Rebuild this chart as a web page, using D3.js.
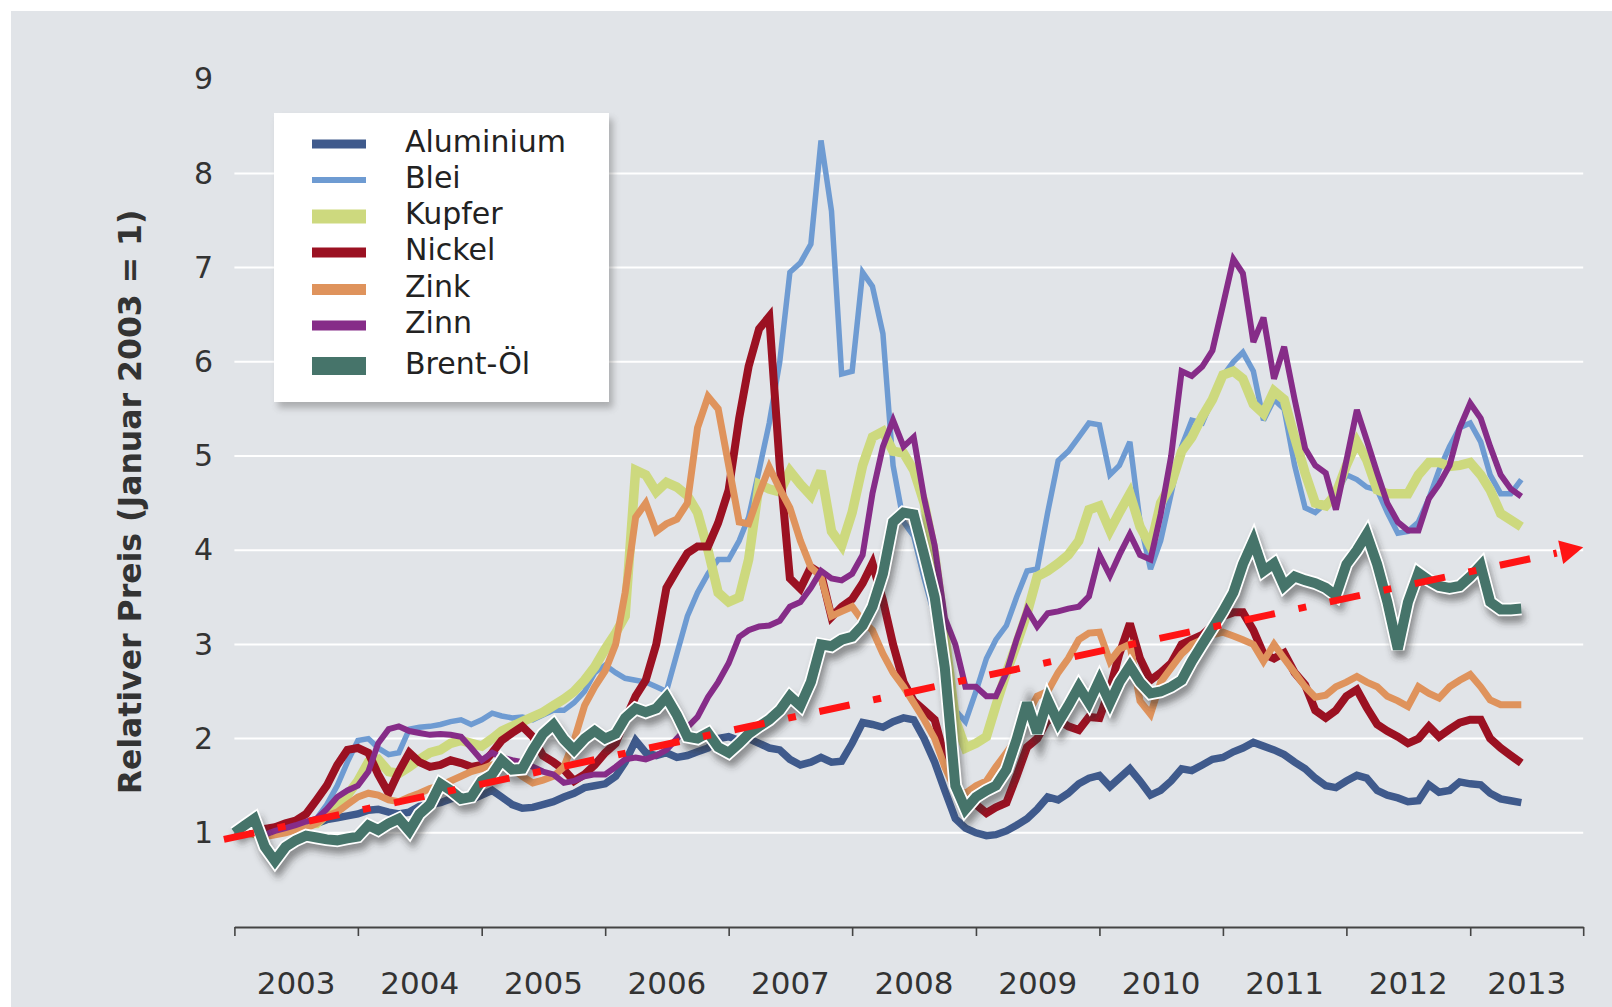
<!DOCTYPE html>
<html>
<head>
<meta charset="utf-8">
<script src="https://cdn.jsdelivr.net/npm/d3@7"></script>
<style>
  body { margin: 0; background: #fff; }
  svg { display: block; }
  text { font-family: "DejaVu Sans", Verdana, sans-serif; }
</style>
</head>
<body>
<div id="chart"></div>
<script>
// relative prices, monthly from Jan 2003 (Jan 2003 = 1)
const aluminium = [
1.00,1.03,1.02,1.00,1.04,1.07,1.08,1.10,1.10,1.14,1.16,1.18,
1.20,1.24,1.25,1.22,1.20,1.22,1.28,1.30,1.32,1.36,1.38,1.35,
1.40,1.45,1.38,1.30,1.26,1.27,1.30,1.33,1.38,1.42,1.48,1.50,
1.52,1.60,1.75,1.98,1.85,1.82,1.85,1.80,1.82,1.86,1.90,2.00,
2.02,1.98,2.00,1.95,1.90,1.88,1.78,1.72,1.75,1.80,1.75,1.76,
1.95,2.17,2.15,2.12,2.18,2.22,2.20,2.00,1.75,1.45,1.15,1.05,
1.00,0.97,0.98,1.02,1.08,1.15,1.25,1.38,1.35,1.42,1.52,1.58,
1.61,1.49,1.58,1.68,1.55,1.40,1.45,1.55,1.68,1.66,1.72,1.78,
1.80,1.86,1.90,1.96,1.92,1.88,1.83,1.75,1.68,1.58,1.50,1.48,
1.55,1.61,1.58,1.45,1.40,1.37,1.33,1.34,1.51,1.43,1.45,1.54,
1.52,1.51,1.42,1.36,1.34,1.32];

const blei = [
1.00,1.00,0.98,0.98,1.00,1.03,1.05,1.08,1.15,1.30,1.50,1.75,
1.98,2.00,1.90,1.83,1.85,2.10,2.12,2.13,2.15,2.18,2.20,2.15,
2.20,2.27,2.24,2.22,2.23,2.20,2.25,2.30,2.30,2.38,2.50,2.70,
2.78,2.70,2.64,2.62,2.60,2.55,2.50,2.90,3.30,3.55,3.75,3.90,
3.90,4.10,4.35,4.85,5.35,6.00,6.95,7.05,7.25,8.35,7.60,5.87,
5.90,6.95,6.80,6.30,4.90,4.30,4.15,3.70,3.30,2.75,2.30,2.18,
2.50,2.85,3.05,3.20,3.50,3.78,3.80,4.40,4.95,5.05,5.20,5.35,
5.33,4.80,4.90,5.15,4.30,3.80,4.10,4.60,5.10,5.38,5.35,5.60,
5.85,6.00,6.10,5.90,5.38,5.60,5.50,4.90,4.45,4.40,4.50,4.60,
4.80,4.75,4.67,4.64,4.40,4.18,4.20,4.30,4.55,4.85,5.10,5.30,
5.35,5.15,4.80,4.60,4.60,4.75];

const kupfer = [
1.00,1.02,1.00,0.97,1.02,1.04,1.07,1.10,1.10,1.20,1.30,1.40,
1.55,1.75,1.78,1.65,1.63,1.70,1.78,1.85,1.88,1.95,1.98,1.95,
1.92,2.00,2.08,2.13,2.18,2.23,2.28,2.35,2.42,2.50,2.62,2.76,
2.95,3.12,3.30,4.85,4.80,4.62,4.72,4.67,4.58,4.40,4.00,3.55,
3.45,3.50,3.90,4.70,4.65,4.62,4.84,4.70,4.58,4.84,4.20,4.05,
4.40,4.90,5.20,5.26,5.05,5.03,4.85,4.50,3.95,3.10,2.20,1.90,
1.95,2.02,2.35,2.70,3.00,3.33,3.72,3.78,3.86,3.95,4.10,4.43,
4.47,4.21,4.40,4.60,4.25,4.04,4.50,4.70,5.05,5.20,5.42,5.60,
5.86,5.90,5.82,5.55,5.45,5.69,5.60,5.20,4.82,4.50,4.47,4.60,
4.90,5.15,4.96,4.64,4.60,4.60,4.60,4.80,4.93,4.93,4.89,4.90,
4.93,4.80,4.64,4.39,4.32,4.25];

const nickel = [
1.00,1.03,1.05,1.04,1.06,1.10,1.13,1.20,1.35,1.50,1.72,1.88,
1.90,1.85,1.62,1.42,1.65,1.85,1.75,1.70,1.72,1.77,1.74,1.70,
1.72,1.85,1.98,2.06,2.13,2.02,1.82,1.75,1.67,1.55,1.62,1.72,
1.85,1.95,2.20,2.45,2.62,3.00,3.60,3.79,3.97,4.04,4.04,4.29,
4.64,5.40,5.95,6.35,6.48,4.90,3.70,3.59,3.82,3.75,3.29,3.40,
3.48,3.65,3.86,3.47,3.00,2.60,2.40,2.30,2.20,1.80,1.45,1.35,
1.30,1.21,1.27,1.32,1.60,1.91,2.00,2.20,2.20,2.13,2.09,2.23,
2.22,2.53,2.90,3.22,2.85,2.62,2.70,2.80,3.00,3.05,3.10,3.20,
3.30,3.34,3.34,3.15,2.90,2.85,2.91,2.70,2.57,2.30,2.22,2.30,
2.45,2.52,2.33,2.15,2.08,2.02,1.95,2.00,2.13,2.02,2.10,2.17,
2.20,2.20,2.00,1.90,1.82,1.74];

const zink = [
1.00,1.00,0.98,0.96,0.98,1.00,1.03,1.05,1.10,1.18,1.22,1.30,
1.38,1.42,1.40,1.35,1.33,1.38,1.42,1.47,1.50,1.55,1.60,1.65,
1.68,1.72,1.70,1.68,1.60,1.53,1.56,1.60,1.70,1.98,2.35,2.55,
2.72,3.00,3.55,4.35,4.50,4.20,4.28,4.33,4.50,5.30,5.63,5.50,
4.90,4.30,4.28,4.60,4.88,4.65,4.45,4.10,3.82,3.72,3.30,3.35,
3.40,3.25,3.15,2.90,2.70,2.55,2.38,2.20,2.00,1.70,1.45,1.42,
1.50,1.55,1.70,1.85,2.00,2.25,2.45,2.50,2.70,2.85,3.05,3.12,
3.13,2.82,2.95,3.00,2.40,2.26,2.60,2.75,2.90,3.00,3.05,3.10,
3.13,3.09,3.05,3.00,2.82,3.00,2.85,2.70,2.55,2.44,2.46,2.55,
2.60,2.66,2.60,2.55,2.45,2.40,2.34,2.55,2.48,2.43,2.55,2.62,
2.68,2.55,2.41,2.36,2.36,2.36];

const zinn = [
1.00,1.02,1.00,0.98,1.02,1.05,1.08,1.12,1.15,1.25,1.38,1.45,
1.50,1.65,1.95,2.10,2.13,2.08,2.06,2.04,2.05,2.04,2.02,1.90,
1.77,1.85,1.80,1.77,1.75,1.70,1.65,1.62,1.53,1.55,1.60,1.62,
1.62,1.70,1.78,1.80,1.78,1.82,1.88,2.00,2.12,2.23,2.44,2.60,
2.80,3.08,3.15,3.19,3.20,3.25,3.40,3.45,3.60,3.78,3.70,3.68,
3.75,3.95,4.60,5.10,5.38,5.10,5.20,4.55,4.05,3.28,3.00,2.55,
2.55,2.45,2.45,2.70,3.05,3.37,3.19,3.33,3.35,3.38,3.40,3.51,
3.95,3.73,3.95,4.17,3.95,3.90,4.38,5.00,5.90,5.85,5.95,6.12,
6.60,7.09,6.94,6.21,6.47,5.82,6.16,5.60,5.08,4.90,4.82,4.43,
4.95,5.49,5.17,4.82,4.50,4.30,4.21,4.21,4.55,4.70,4.90,5.30,
5.56,5.40,5.10,4.80,4.65,4.57];

const brent = [
1.00,1.08,1.15,0.85,0.70,0.85,0.92,0.97,0.95,0.93,0.92,0.94,
0.96,1.08,1.03,1.10,1.15,1.02,1.20,1.30,1.52,1.45,1.36,1.38,
1.55,1.62,1.77,1.67,1.68,1.88,2.05,2.15,1.99,1.88,2.00,2.08,
2.00,2.05,2.22,2.32,2.28,2.32,2.44,2.25,2.02,2.00,2.06,1.91,
1.85,1.95,2.05,2.13,2.20,2.30,2.45,2.35,2.60,3.00,2.98,3.05,
3.08,3.20,3.40,3.75,4.30,4.40,4.38,3.95,3.50,2.75,1.50,1.25,
1.38,1.45,1.50,1.67,1.99,2.38,2.06,2.41,2.17,2.35,2.55,2.38,
2.62,2.38,2.60,2.77,2.60,2.48,2.50,2.55,2.62,2.82,3.00,3.17,
3.35,3.55,3.85,4.10,3.78,3.86,3.62,3.72,3.68,3.65,3.60,3.52,
3.85,4.00,4.17,3.85,3.45,2.95,3.45,3.76,3.68,3.62,3.60,3.62,
3.72,3.84,3.45,3.37,3.37,3.38];

const seriesNames  = ["Aluminium", "Blei", "Kupfer", "Nickel", "Zink", "Zinn", "Brent-Öl"];
const seriesValues = [aluminium, blei, kupfer, nickel, zink, zinn, brent];
const seriesColors = ["#3f5a8c", "#6e9bd2", "#cdd97e", "#9b1122", "#df935c", "#862c88", "#46746a"];
const seriesWidths = [7.5, 5.5, 9.5, 8, 7, 6, 10];
const legendSwatch = [9, 6, 14, 10, 11, 10, 18];

const yTicks = [1, 2, 3, 4, 5, 6, 7, 8, 9];
const gridValues = [1, 2, 3, 4, 5, 6, 7, 8];
const years = [2003, 2004, 2005, 2006, 2007, 2008, 2009, 2010, 2011, 2012, 2013];

// dash-dot trend arrow
const trendDates = [new Date(2002, 11, 1), new Date(2013, 11, 1)];
const trendValues = [0.93, 4.03];

const startMonth = new Date(2003, 0, 1);
const months = d3.range(brent.length).map(i => d3.timeMonth.offset(startMonth, i));

const width = 1612, height = 1007;
const svg = d3.select("#chart").append("svg")
    .attr("width", width)
    .attr("height", height);

const defs = svg.append("defs");
defs.append("filter").attr("id", "blur3")
    .attr("x", "-10%").attr("y", "-10%").attr("width", "120%").attr("height", "120%")
  .append("feGaussianBlur").attr("stdDeviation", 3.5);

// grey panel
svg.append("rect")
    .attr("x", 11).attr("y", 11)
    .attr("width", width - 11).attr("height", height - 11)
    .attr("fill", "#e1e4e8");

const xScale = d3.scaleTime()
    .domain([new Date(2003, 0, 1), new Date(2013, 11, 1)])
    .range([234.4, 1583.2]);

const yScale = d3.scaleLinear()
    .domain([0, 9])
    .range([927, 79.2]);

// horizontal grid
svg.append("g").attr("class", "grid")
  .selectAll("line")
  .data(gridValues)
  .join("line")
    .attr("x1", xScale.range()[0])
    .attr("x2", xScale.range()[1])
    .attr("y1", d => yScale(d))
    .attr("y2", d => yScale(d))
    .attr("stroke", "#ffffff")
    .attr("stroke-width", 2);

// y labels
const yAxis = d3.axisLeft(yScale).tickValues(yTicks).tickSize(0).tickPadding(0);
const y_axis = svg.append("g")
    .attr("transform", "translate(213,0)")
    .call(yAxis);
y_axis.select(".domain").remove();
y_axis.selectAll("text")
    .attr("font-family", "DejaVu Sans, sans-serif")
    .attr("font-size", 30)
    .attr("fill", "#333");

// x axis: ticks at year boundaries, labels in the middle of each year
const xTickDates = years.map(y => new Date(y, 0, 1)).concat([xScale.domain()[1]]);
const xAxis = d3.axisBottom(xScale).tickValues(xTickDates).tickSize(9).tickSizeOuter(0).tickFormat("");
const x_axis = svg.append("g")
    .attr("transform", `translate(0,${yScale(0)})`)
    .call(xAxis);
x_axis.select(".domain").attr("stroke", "#444").attr("stroke-width", 2);
x_axis.selectAll(".tick line").attr("stroke", "#444").attr("stroke-width", 1.6);

svg.append("g").selectAll("text")
  .data(years)
  .join("text")
    .attr("x", d => (xScale(new Date(d, 0, 1)) + xScale(d3.min([new Date(d + 1, 0, 1), xScale.domain()[1]]))) / 2)
    .attr("y", 994)
    .attr("text-anchor", "middle")
    .attr("font-size", 31)
    .attr("fill", "#333")
    .text(d => d);

// axis title
svg.append("text")
    .attr("transform", "translate(130,502) rotate(-90)")
    .attr("text-anchor", "middle")
    .attr("dominant-baseline", "central")
    .attr("font-size", 31.5)
    .attr("font-weight", "bold")
    .attr("fill", "#333")
    .text("Relativer Preis (Januar 2003 = 1)");

const line = d3.line()
    .x((d, i) => xScale(months[i]))
    .y(d => yScale(d));

// metals
const lines = svg.append("g").attr("fill", "none");
seriesValues.slice(0, 6).forEach((vals, k) => {
    lines.append("path")
        .datum(vals)
        .attr("d", line)
        .attr("stroke", seriesColors[k])
        .attr("stroke-width", seriesWidths[k])
        .attr("stroke-linejoin", "miter")
        .attr("stroke-miterlimit", 3);
});

// Brent: shadow, white outline, teal core
lines.append("path")
    .datum(brent)
    .attr("d", line)
    .attr("transform", "translate(3,7)")
    .attr("stroke", "#333")
    .attr("stroke-opacity", 0.5)
    .attr("stroke-width", 13)
    .attr("filter", "url(#blur3)");
lines.append("path")
    .datum(brent)
    .attr("d", line)
    .attr("stroke", "#ffffff")
    .attr("stroke-width", 13.5)
    .attr("stroke-linejoin", "miter")
    .attr("stroke-miterlimit", 3);
lines.append("path")
    .datum(brent)
    .attr("d", line)
    .attr("stroke", seriesColors[6])
    .attr("stroke-width", seriesWidths[6])
    .attr("stroke-linejoin", "miter")
    .attr("stroke-miterlimit", 3);

// trend arrow
const p0 = [xScale(trendDates[0]), yScale(trendValues[0])];
const p1 = [xScale(trendDates[1]), yScale(trendValues[1])];
const dx = p1[0] - p0[0], dy = p1[1] - p0[1];
const len = Math.hypot(dx, dy);
const ux = dx / len, uy = dy / len;
const headLen = 23, headHalf = 12;
const base = [p1[0] - ux * headLen, p1[1] - uy * headLen];

svg.append("line")
    .attr("x1", p0[0]).attr("y1", p0[1])
    .attr("x2", base[0] - ux * 4).attr("y2", base[1] - uy * 4)
    .attr("stroke", "#ff1414")
    .attr("stroke-width", 7)
    .attr("stroke-dasharray", "31 24 8 24");
svg.append("path")
    .attr("d", `M${p1[0]},${p1[1]}L${base[0] - uy * headHalf},${base[1] + ux * headHalf}L${base[0] + uy * headHalf},${base[1] - ux * headHalf}Z`)
    .attr("fill", "#ff1414");

// legend
const legend = svg.append("g").attr("transform", "translate(274,113)");
legend.append("rect")
    .attr("x", 4).attr("y", 6)
    .attr("width", 335).attr("height", 289)
    .attr("fill", "#6a6a6a")
    .attr("opacity", 0.45)
    .attr("filter", "url(#blur3)");
legend.append("rect")
    .attr("width", 335).attr("height", 289)
    .attr("fill", "#ffffff");
const rowY = [31, 67, 103.5, 139.5, 176.5, 212.5, 253];
seriesNames.forEach((name, k) => {
    legend.append("rect")
        .attr("x", 38).attr("y", rowY[k] - legendSwatch[k] / 2)
        .attr("width", 54).attr("height", legendSwatch[k])
        .attr("fill", seriesColors[k]);
    legend.append("text")
        .attr("x", 131).attr("y", rowY[k] - 3)
        .attr("dominant-baseline", "central")
        .attr("font-size", 30)
        .attr("fill", "#222")
        .text(name);
});
</script>
</body>
</html>
